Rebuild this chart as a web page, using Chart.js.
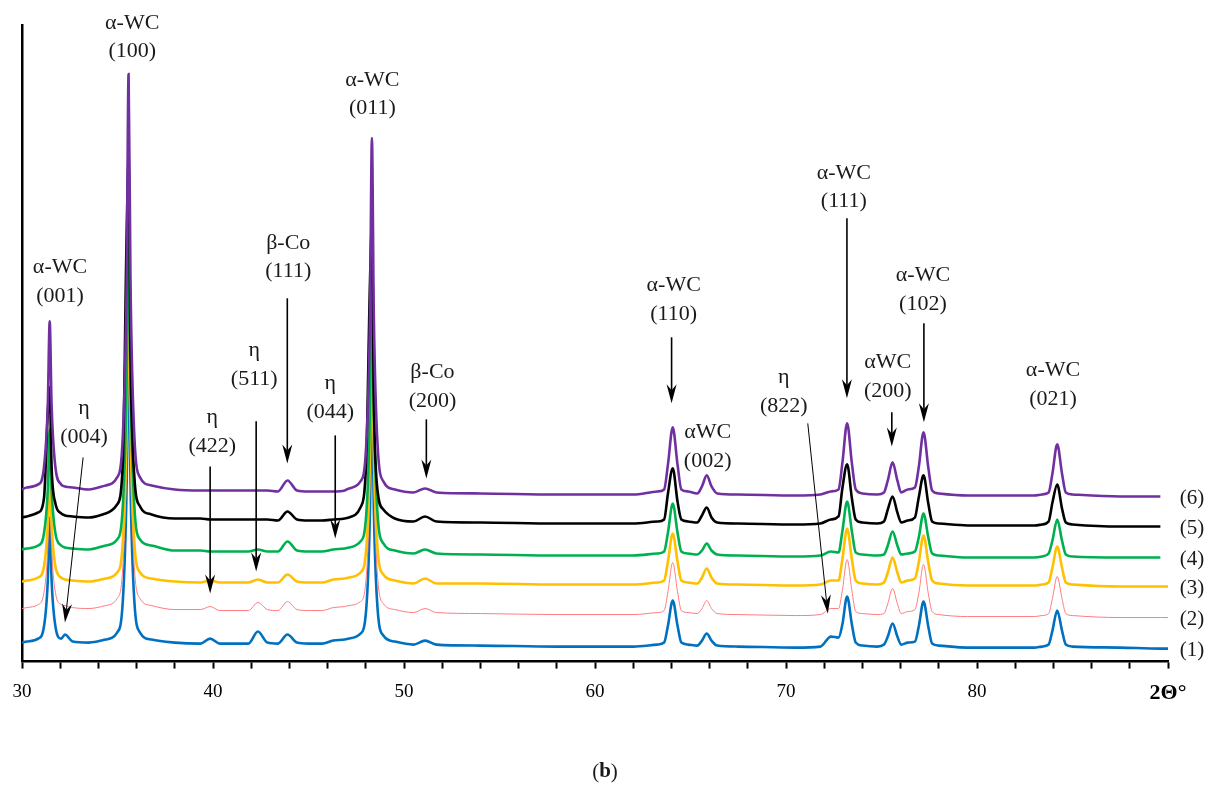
<!DOCTYPE html>
<html>
<head>
<meta charset="utf-8">
<script src="https://cdn.jsdelivr.net/npm/chart.js@4.4.0/dist/chart.umd.min.js"></script>
<style>
  html, body { margin: 0; padding: 0; background: #fff; }
  #wrap { width: 1210px; height: 787px; position: relative; }
</style>
</head>
<body>
<div id="wrap"><canvas id="graficoXRD"></canvas></div>
<script>
// Posições 2θ (graus), comuns a todos os difratogramas
const theta = [30.0, 30.25, 30.85, 31.15, 31.35, 31.45, 31.55, 31.75, 32.05, 32.25,
  32.65, 33.5, 34.38, 34.98, 35.28, 35.48, 35.58, 35.68, 35.88, 36.18,
  36.78, 38.0, 39.35, 39.85, 40.35, 41.85, 42.35, 42.85, 43.4, 43.9,
  44.4, 45.0, 45.7, 46.3, 46.9, 47.12, 47.72, 48.02, 48.22, 48.32,
  48.42, 48.62, 48.92, 49.52, 50.5, 51.1, 51.7, 54, 58, 62,
  63.27, 63.62, 63.82, 64.07, 64.32, 64.52, 64.87, 65.35, 65.6, 65.85,
  66.1, 66.4, 67.5, 70.5, 71.8, 72.35, 72.75, 72.95, 73.2, 73.45,
  73.65, 74.0, 74.78, 75.13, 75.33, 75.58, 75.83, 76.03, 76.38, 76.75,
  76.95, 77.2, 77.45, 77.65, 78.0, 79.5, 83.0, 83.4, 83.75, 83.95,
  84.2, 84.45, 84.65, 85.0, 87.5, 89.6, 90.0];

// Intensidade (u.a., já deslocada verticalmente) de cada amostra
const amostra1 = [19, 20, 23, 35, 81, 144, 81, 35, 23, 27,
  20, 19, 22, 29, 61, 179, 339, 179, 61, 29,
  22, 19, 18, 23, 18, 18, 30, 19, 18, 27,
  19, 18, 18, 21, 22, 23, 28, 52, 152, 287,
  152, 52, 26, 20, 17, 21, 17, 16, 15, 15,
  17, 19, 36, 61, 36, 19, 17, 16, 21, 28,
  21, 16, 15, 14, 15, 25, 24, 37, 65, 37,
  19, 16, 15, 17, 25, 38, 25, 17, 19, 20,
  35, 60, 35, 18, 16, 14, 14, 15, 17, 31,
  51, 31, 17, 15, 14, 13, 13];
const amostra2 = [53, 54, 57, 69, 113, 173, 113, 69, 57, 56,
  54, 53, 56, 63, 95, 213, 373, 213, 95, 63,
  56, 52, 52, 55, 51, 51, 59, 52, 51, 60,
  52, 51, 51, 54, 55, 56, 60, 84, 184, 319,
  184, 84, 58, 52, 49, 53, 49, 48, 47, 47,
  49, 51, 70, 99, 70, 51, 49, 48, 53, 61,
  53, 48, 47, 46, 47, 53, 53, 71, 102, 71,
  50, 48, 47, 48, 58, 73, 58, 48, 50, 52,
  68, 97, 68, 50, 47, 45, 45, 46, 48, 63,
  85, 63, 48, 46, 44, 44, 44];
const amostra3 = [80, 81, 84, 95, 137, 193, 137, 95, 84, 82,
  81, 80, 83, 89, 120, 235, 390, 235, 120, 89,
  83, 80, 79, 81, 79, 79, 82, 79, 79, 87,
  80, 79, 79, 82, 83, 84, 89, 112, 208, 338,
  208, 112, 87, 81, 78, 83, 78, 78, 77, 77,
  79, 81, 100, 128, 100, 81, 79, 78, 84, 93,
  84, 78, 77, 76, 77, 81, 81, 102, 133, 102,
  81, 78, 77, 79, 89, 104, 89, 79, 81, 83,
  99, 126, 99, 81, 78, 76, 76, 77, 79, 94,
  115, 94, 79, 77, 75, 75, 75];
const amostra4 = [112, 113, 116, 128, 172, 232, 172, 128, 116, 114,
  113, 112, 116, 122, 156, 282, 452, 282, 156, 122,
  116, 111, 111, 110, 110, 110, 112, 110, 110, 120,
  111, 110, 110, 112, 113, 114, 120, 146, 253, 398,
  253, 146, 118, 111, 108, 112, 108, 107, 106, 106,
  108, 110, 129, 158, 129, 110, 108, 107, 111, 118,
  111, 107, 106, 105, 106, 110, 109, 130, 160, 130,
  109, 107, 106, 107, 116, 130, 116, 107, 108, 110,
  124, 148, 124, 108, 106, 104, 104, 105, 108, 121,
  142, 121, 107, 105, 104, 104, null];
const amostra5 = [144, 145, 149, 163, 248, 274, 194, 158, 148, 146,
  145, 144, 148, 157, 199, 429, 500, 304, 185, 155,
  147, 143, 143, 142, 142, 142, 142, 142, 141, 150,
  142, 141, 141, 142, 143, 144, 154, 200, 380, 436,
  260, 170, 152, 143, 140, 145, 140, 139, 138, 138,
  140, 142, 168, 193, 160, 142, 140, 139, 146, 154,
  144, 139, 138, 137, 138, 142, 145, 173, 197, 163,
  142, 139, 138, 140, 152, 165, 149, 139, 141, 144,
  164, 186, 158, 140, 138, 136, 136, 137, 140, 159,
  177, 153, 139, 137, 135, 135, null];
const amostra6 = [172, 174, 177, 194, 256, 340, 256, 194, 177, 175,
  174, 172, 176, 184, 226, 380, 587, 380, 226, 184,
  176, 172, 171, 171, 171, 171, 171, 171, 170, 181,
  171, 170, 170, 170, 171, 173, 180, 215, 346, 523,
  346, 215, 180, 172, 169, 173, 169, 168, 167, 167,
  170, 172, 197, 234, 197, 172, 170, 168, 175, 186,
  175, 168, 167, 166, 167, 170, 172, 198, 238, 198,
  172, 168, 167, 169, 181, 199, 181, 169, 172, 174,
  194, 229, 194, 171, 168, 166, 166, 167, 169, 188,
  217, 188, 169, 167, 165, 165, null];

const nomesAmostras = ['(6)', '(5)', '(4)', '(3)', '(2)', '(1)'];
const coresAmostras = ['#7030A0', '#000000', '#00B050', '#FFC000', '#FF7C80', '#0070C0'];
const espessuras = [2.6, 2.6, 2.6, 2.6, 1, 2.6];
const dadosAmostras = [amostra6, amostra5, amostra4, amostra3, amostra2, amostra1];

// Rótulos do eixo x
const rotulosX = [30, 40, 50, 60, 70, 80];
const tituloX = '2Θ°';

// Identificação das fases (posição em 2θ e intensidade)
const rotulosPicos = [
  { linhas: ['α-WC', '(001)'], x: 31.99, y: 394 },
  { linhas: ['α-WC', '(100)'], x: 35.77, y: 638 },
  { linhas: ['α-WC', '(011)'], x: 48.34, y: 581 },
  { linhas: ['η', '(004)'], x: 33.25, y: 253 },
  { linhas: ['η', '(422)'], x: 39.96, y: 244 },
  { linhas: ['η', '(511)'], x: 42.16, y: 311 },
  { linhas: ['β-Co', '(111)'], x: 43.94, y: 418 },
  { linhas: ['η', '(044)'], x: 46.14, y: 278 },
  { linhas: ['β-Co', '(200)'], x: 51.49, y: 289 },
  { linhas: ['α-WC', '(110)'], x: 64.12, y: 376 },
  { linhas: ['αWC', '(002)'], x: 65.9, y: 229 },
  { linhas: ['η', '(822)'], x: 69.88, y: 284 },
  { linhas: ['α-WC', '(111)'], x: 73.03, y: 488 },
  { linhas: ['αWC', '(200)'], x: 75.33, y: 299 },
  { linhas: ['α-WC', '(102)'], x: 77.17, y: 386 },
  { linhas: ['α-WC', '(021)'], x: 83.98, y: 291 }
];

// Setas: [2θ, intensidade] de início e de ponta
const setas = [
  { de: [33.2, 204], para: [32.25, 39], fina: true },
  { de: [39.85, 195], para: [39.85, 68] },
  { de: [42.26, 240], para: [42.26, 90] },
  { de: [43.89, 363], para: [43.89, 198] },
  { de: [46.4, 226], para: [46.4, 123] },
  { de: [51.17, 242], para: [51.17, 183] },
  { de: [64.01, 324], para: [64.01, 258] },
  { de: [73.19, 443], para: [73.19, 263] },
  { de: [75.54, 249], para: [75.54, 215] },
  { de: [77.22, 338], para: [77.22, 239] },
  { de: [71.14, 238], para: [72.19, 48], fina: true }
];

const fonteTexto = '22px "Liberation Serif", "Times New Roman", serif';

function desenhaSeta(ctx, x1, y1, x2, y2, fina) {
  const ang = Math.atan2(y2 - y1, x2 - x1);
  const comp = 19, larg = 5, entalhe = 6;
  const bx = x2 - Math.cos(ang) * (comp - entalhe);
  const by = y2 - Math.sin(ang) * (comp - entalhe);
  ctx.strokeStyle = '#000';
  ctx.fillStyle = '#000';
  ctx.lineWidth = fina ? 1 : 1.6;
  ctx.beginPath();
  ctx.moveTo(x1, y1);
  ctx.lineTo(bx, by);
  ctx.stroke();
  const px = -Math.sin(ang), py = Math.cos(ang);
  const cx = x2 - Math.cos(ang) * comp, cy = y2 - Math.sin(ang) * comp;
  ctx.beginPath();
  ctx.moveTo(x2, y2);
  ctx.lineTo(cx + px * larg, cy + py * larg);
  ctx.lineTo(bx, by);
  ctx.lineTo(cx - px * larg, cy - py * larg);
  ctx.closePath();
  ctx.fill();
}

const anotacoes = {
  id: 'anotacoes',
  afterDatasetsDraw(chart) {
    const { ctx, scales: { x, y }, chartArea } = chart;
    ctx.save();
    ctx.font = fonteTexto;
    ctx.fillStyle = '#1a1a1a';
    ctx.textAlign = 'center';
    ctx.textBaseline = 'middle';
    rotulosPicos.forEach(r => {
      const px = x.getPixelForValue(r.x);
      const py = y.getPixelForValue(r.y);
      r.linhas.forEach((t, i) => ctx.fillText(t, px, py + i * 28.5));
    });
    setas.forEach(s => {
      desenhaSeta(ctx,
        x.getPixelForValue(s.de[0]), y.getPixelForValue(s.de[1]),
        x.getPixelForValue(s.para[0]), y.getPixelForValue(s.para[1]), s.fina);
    });
    // nomes das amostras à direita de cada curva
    ctx.font = '21px "Liberation Serif", serif';
    ctx.fillStyle = '#1a1a1a';
    dadosAmostras.forEach((d, i) => {
      let ultimo = d[d.length - 1];
      if (ultimo === null) ultimo = d[d.length - 2];
      ctx.fillText(nomesAmostras[i], chartArea.right + 24, y.getPixelForValue(ultimo) + 2);
    });
    // legenda da figura "(b)"
    const cx = chart.width / 2, cy = 772;
    ctx.font = '21px "Liberation Serif", serif';
    const wa = ctx.measureText('(').width;
    ctx.font = 'bold 21px "Liberation Serif", serif';
    const wb = ctx.measureText('b').width;
    const inicio = cx - (wa * 2 + wb) / 2;
    ctx.textAlign = 'left';
    ctx.font = '21px "Liberation Serif", serif';
    ctx.fillText('(', inicio, cy);
    ctx.font = 'bold 21px "Liberation Serif", serif';
    ctx.fillText('b', inicio + wa, cy);
    ctx.font = '21px "Liberation Serif", serif';
    ctx.fillText(')', inicio + wa + wb, cy);
    ctx.restore();
  }
};

const ctx = document.getElementById('graficoXRD').getContext('2d');
const graficoXRD = new Chart(ctx, {
  type: 'line',
  data: {
    datasets: dadosAmostras.map((d, i) => ({
      label: nomesAmostras[i],
      data: theta.map((t, j) => ({ x: t, y: d[j] })),
      borderColor: coresAmostras[i],
      borderWidth: espessuras[i],
      pointRadius: 0,
      cubicInterpolationMode: 'monotone',
      fill: false
    }))
  },
  options: {
    responsive: true,
    maintainAspectRatio: false,
    animation: false,
    layout: { padding: { top: 25, left: 22, right: 42, bottom: 68 } },
    plugins: { legend: { display: false }, tooltip: { enabled: false } },
    scales: {
      x: {
        type: 'linear',
        min: 30,
        max: 90,
        border: { display: true, color: '#000', width: 2.5 },
        grid: {
          display: true,
          drawOnChartArea: false,
          drawTicks: true,
          tickLength: 7,
          tickColor: '#000',
          tickWidth: 2
        },
        ticks: {
          stepSize: 2,
          autoSkip: false,
          maxRotation: 0,
          padding: 12,
          color: '#000',
          font: (c) => (c.tick && c.tick.value === 90)
            ? { family: '"Liberation Serif", serif', size: 22, weight: 'bold' }
            : { family: '"Liberation Serif", serif', size: 19 },
          callback: (v) => {
            if (v === 90) return tituloX;
            return rotulosX.includes(v) ? String(v) : '';
          }
        }
      },
      y: {
        min: 0,
        max: 636,
        border: { display: true, color: '#000', width: 2.5 },
        grid: { display: false, drawTicks: false },
        ticks: { display: false }
      }
    }
  },
  plugins: [anotacoes]
});
</script>
</body>
</html>
